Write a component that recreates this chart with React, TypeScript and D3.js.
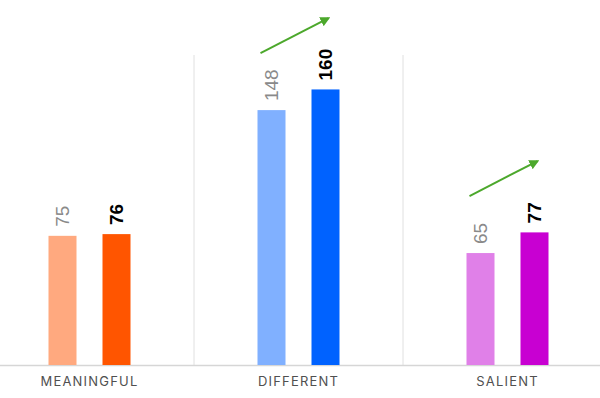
import * as d3 from "d3";

// chart data
const categories = ["MEANINGFUL", "DIFFERENT", "SALIENT"];
const previousValues = [75, 148, 65];
const currentValues = [76, 160, 77];
const previousColors = ["#FFA97F", "#80B0FF", "#E080E8"];
const currentColors = ["#FF5500", "#0062FF", "#C800D2"];
const showArrow = [false, true, true];

const width = 600;
const height = 398;
const baseline = 365;

export default function App() {
  // bands span the full width, last divider sits at 403
  const x = d3
    .scaleBand()
    .domain(categories)
    .range([-15, 612])
    .paddingInner(0)
    .paddingOuter(0);

  const y = d3.scaleLinear().domain([0, 180]).range([baseline, 55]);

  const barW = 28;
  const offset = 27;
  const green = "#4CA82C";

  return (
    <svg
      width={width}
      height={height}
      style={{ position: "absolute", left: 0, top: 0, background: "#fff" }}
    >
      <defs>
        <marker
          id="arrowhead"
          viewBox="0 0 10 10"
          refX="8"
          refY="5"
          markerWidth="5"
          markerHeight="5"
          orient="auto"
        >
          <path d="M0,0 L10,5 L0,10 z" fill={green} />
        </marker>
      </defs>

      {/* dividers between categories */}
      {categories.slice(1).map((c) => (
        <line
          key={c}
          x1={x(c)}
          x2={x(c)}
          y1={y(180)}
          y2={baseline}
          stroke="#e0e0e0"
          strokeWidth={1}
        />
      ))}

      <line x1={0} x2={width} y1={baseline + 0.5} y2={baseline + 0.5} stroke="#d6d6d6" strokeWidth={1.5} />

      {categories.map((c, i) => {
        const cx = (x(c) ?? 0) + x.bandwidth() / 2;
        const x1 = cx - offset;
        const x2 = cx + offset;
        const v1 = previousValues[i];
        const v2 = currentValues[i];
        return (
          <g key={c}>
            <rect x={x1 - barW / 2} y={y(v1)} width={barW} height={baseline - y(v1)} fill={previousColors[i]} />
            <rect x={x2 - barW / 2} y={y(v2)} width={barW} height={baseline - y(v2)} fill={currentColors[i]} />

            <text
              transform={`translate(${x1},${y(v1) - 9}) rotate(-90)`}
              dy="0.36em"
              fontSize={19}
              fill="#8a8a8a"
              fontFamily="'Liberation Sans', Arial, sans-serif"
            >
              {v1}
            </text>
            <text
              transform={`translate(${x2},${y(v2) - 9}) rotate(-90)`}
              dy="0.36em"
              fontSize={19}
              fontWeight="bold"
              fill="#000"
              fontFamily="'Liberation Sans', Arial, sans-serif"
            >
              {v2}
            </text>

            {showArrow[i] && (
              <line
                x1={cx - 38}
                y1={y(v1) - 57}
                x2={cx + 30}
                y2={y(v1) - 92}
                stroke={green}
                strokeWidth={2}
                markerEnd="url(#arrowhead)"
              />
            )}

            <text
              x={cx}
              y={386}
              textAnchor="middle"
              fontSize={13}
              letterSpacing={1.2}
              fill="#505050"
              fontFamily="Inter, 'Liberation Sans', Arial, sans-serif"
            >
              {c}
            </text>
          </g>
        );
      })}
    </svg>
  );
}
